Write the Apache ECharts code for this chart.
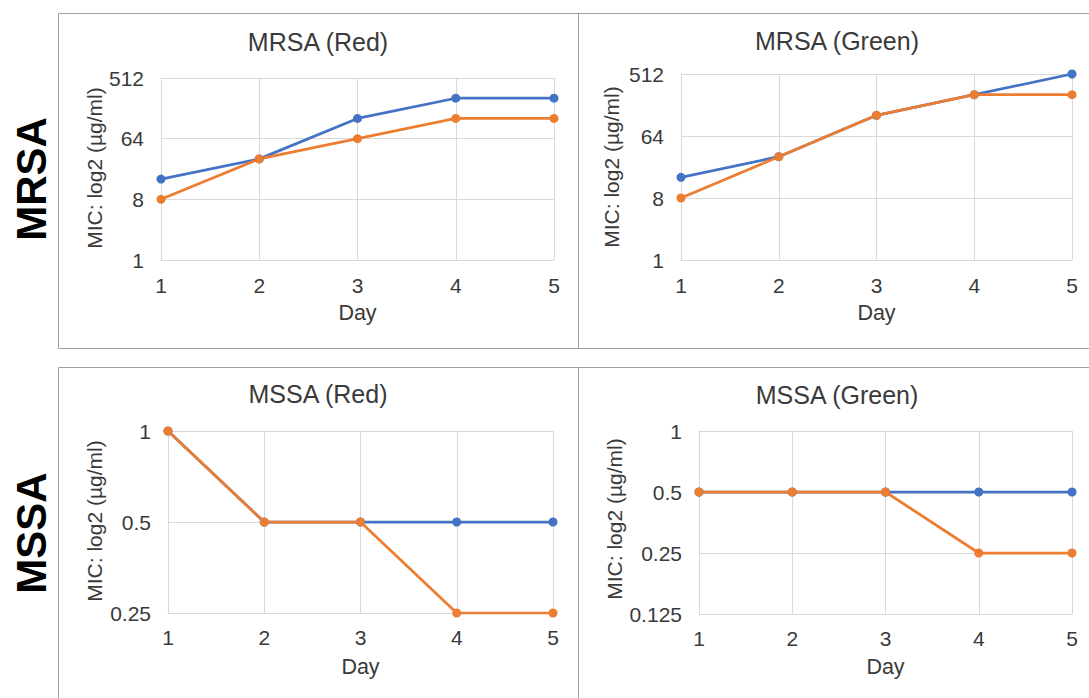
<!DOCTYPE html>
<html>
<head>
<meta charset="utf-8">
<script src="https://cdn.jsdelivr.net/npm/echarts@6/dist/echarts.min.js"></script>
<style>
html,body{margin:0;padding:0;background:#fff;}
#chart{width:1089px;height:698px;}
</style>
</head>
<body>
<div id="chart"></div>
<script>
// ---- data ----
const days = [1, 2, 3, 4, 5];
const panelTitles = ['MRSA (Red)', 'MRSA (Green)', 'MSSA (Red)', 'MSSA (Green)'];
const rowLabels = ['MRSA', 'MSSA'];
const xAxisTitle = 'Day';
const yAxisTitle = 'MIC: log2 (\u00b5g/ml)';

const mrsaRedBlue    = [16, 32, 128, 256, 256];
const mrsaRedOrange  = [8, 32, 64, 128, 128];
const mrsaGreenBlue  = [16, 32, 128, 256, 512];
const mrsaGreenOrange= [8, 32, 128, 256, 256];
const mssaRedBlue    = [1, 0.5, 0.5, 0.5, 0.5];
const mssaRedOrange  = [1, 0.5, 0.5, 0.25, 0.25];
const mssaGreenBlue  = [0.5, 0.5, 0.5, 0.5, 0.5];
const mssaGreenOrange= [0.5, 0.5, 0.5, 0.25, 0.25];

const mrsaTicks      = [1, 8, 64, 512];
const mssaRedTicks   = [0.25, 0.5, 1];
const mssaGreenTicks = [0.125, 0.25, 0.5, 1];

// ---- layout ----
const FONT = '"Liberation Sans", Arial, sans-serif';
const TXT = '#3a3a3a';
const GRID_C = '#d9d9d9';
const BLUE = '#4472C4';
const ORANGE = '#ED7D31';

const grids = [
  {left: 161, top: 78, width: 393, height: 182},
  {left: 681, top: 74, width: 391, height: 186},
  {left: 168, top: 431, width: 385, height: 182},
  {left: 699, top: 431, width: 373, height: 183}
];
const tickSets = [mrsaTicks, mrsaTicks, mssaRedTicks, mssaGreenTicks];
const seriesSets = [
  [mrsaRedBlue, mrsaRedOrange],
  [mrsaGreenBlue, mrsaGreenOrange],
  [mssaRedBlue, mssaRedOrange],
  [mssaGreenBlue, mssaGreenOrange]
];
const titlePos = [[318, 42], [837, 41], [318, 394], [837, 395]];
const yTitlePos = [[94, 168], [611, 167], [94, 521], [614, 519]];
const dayY = [313, 313, 667, 667];
const xMargins = [15, 15, 14, 14];

const xAxes = [], yAxes = [], series = [];
grids.forEach((g, i) => {
  const ticks = tickSets[i];
  const step = Math.log2(ticks[1] / ticks[0]);
  xAxes.push({
    type: 'value', gridIndex: i, min: days[0], max: days[days.length - 1], interval: 1,
    axisLine: {show: true, lineStyle: {color: GRID_C, width: 1}},
    axisTick: {show: false},
    axisLabel: {color: TXT, fontFamily: FONT, fontSize: 21, margin: xMargins[i]},
    splitLine: {show: true, lineStyle: {color: GRID_C, width: 1}}
  });
  yAxes.push({
    type: 'log', logBase: 2, gridIndex: i,
    min: ticks[0], max: ticks[ticks.length - 1], interval: step,
    axisLine: {show: true, lineStyle: {color: GRID_C, width: 1}},
    axisTick: {show: false},
    axisLabel: {color: TXT, fontFamily: FONT, fontSize: 21, margin: 17,
      formatter: v => String(+Number(v).toPrecision(6))},
    splitLine: {show: true, lineStyle: {color: GRID_C, width: 1}}
  });
  const [b, o] = seriesSets[i];
  [[b, BLUE], [o, ORANGE]].forEach(([vals, col]) => {
    series.push({
      type: 'line', xAxisIndex: i, yAxisIndex: i,
      data: days.map((d, k) => [d, vals[k]]),
      symbol: 'circle', symbolSize: 9, showSymbol: true,
      lineStyle: {color: col, width: 2.75},
      itemStyle: {color: col},
      emphasis: {disabled: true}
    });
  });
});

const graphics = [];
// frames
const lineStyle = {stroke: '#a0a0a0', lineWidth: 1};
graphics.push({type: 'rect', shape: {x: 58.5, y: 13.5, width: 1040, height: 335}, style: {fill: 'none', stroke: '#a0a0a0', lineWidth: 1}, silent: true});
graphics.push({type: 'line', shape: {x1: 578.5, y1: 13.5, x2: 578.5, y2: 348.5}, style: lineStyle, silent: true});
graphics.push({type: 'rect', shape: {x: 58.5, y: 367.5, width: 1040, height: 340}, style: {fill: 'none', stroke: '#a0a0a0', lineWidth: 1}, silent: true});
graphics.push({type: 'line', shape: {x1: 578.5, y1: 367.5, x2: 578.5, y2: 700}, style: lineStyle, silent: true});

panelTitles.forEach((t, i) => {
  graphics.push({type: 'text', x: titlePos[i][0], y: titlePos[i][1], silent: true,
    style: {text: t, fill: TXT, font: '25px ' + FONT, textAlign: 'center', textVerticalAlign: 'middle'}});
  graphics.push({type: 'text', x: yTitlePos[i][0], y: yTitlePos[i][1], rotation: Math.PI / 2, silent: true,
    style: {text: yAxisTitle, fill: TXT, font: '21px ' + FONT, textAlign: 'center', textVerticalAlign: 'middle'}});
  const g = grids[i];
  graphics.push({type: 'text', x: g.left + g.width / 2, y: dayY[i], silent: true,
    style: {text: xAxisTitle, fill: TXT, font: '21.5px ' + FONT, textAlign: 'center', textVerticalAlign: 'middle'}});
});
graphics.push({type: 'text', x: 31, y: 179, rotation: Math.PI / 2, silent: true,
  style: {text: rowLabels[0], fill: '#000', font: 'bold 42px ' + FONT, textAlign: 'center', textVerticalAlign: 'middle'}});
graphics.push({type: 'text', x: 31, y: 533, rotation: Math.PI / 2, silent: true,
  style: {text: rowLabels[1], fill: '#000', font: 'bold 42px ' + FONT, textAlign: 'center', textVerticalAlign: 'middle'}});

const chart = echarts.init(document.getElementById('chart'), null, {renderer: 'svg'});
chart.setOption({
  animation: false,
  backgroundColor: '#fff',
  grid: grids.map(g => Object.assign({containLabel: false}, g)),
  xAxis: xAxes,
  yAxis: yAxes,
  series: series,
  graphic: graphics
});
</script>
</body>
</html>
